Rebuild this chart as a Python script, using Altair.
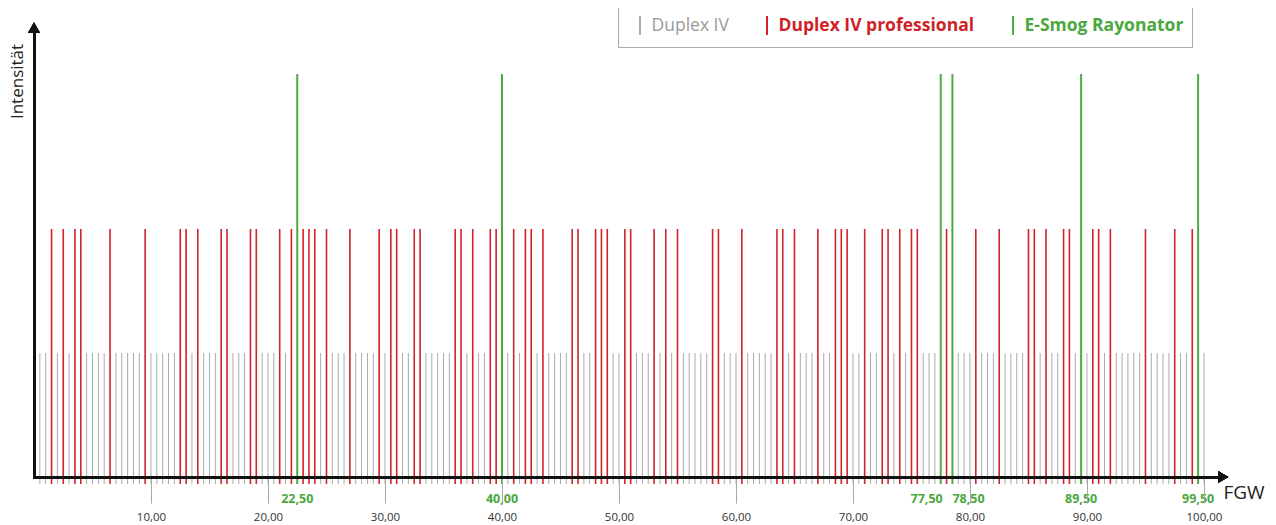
import altair as alt
import pandas as pd

# ---------------- data ----------------
SERIES = ["Duplex IV", "Duplex IV professional", "E-Smog Rayonator"]
LINE_COLORS = ["#ababab", "#d2232a", "#4cad3f"]
TEXT_COLORS = ["#9a9a9a", "#cf1f27", "#4aa83c"]
HEIGHTS = [1.0, 2.0, 3.25]          # relative intensity of each series

duplex_iv = [0.5, 1, 2, 3, 4.5, 5, 5.5, 6, 7, 7.5, 8, 8.5, 9, 10, 10.5, 11, 11.5, 12,
             13.5, 14.5, 15, 15.5, 17, 17.5, 18, 19.5, 20, 20.5, 21.5, 24.5, 25.5, 26,
             26.5, 27.5, 28, 28.5, 29, 30, 31.5, 32, 33.5, 34, 34.5, 35, 35.5, 37, 38,
             38.5, 40.5, 41.5, 43, 44, 44.5, 45, 45.5, 47, 47.5, 49.5, 50, 51.5, 52,
             52.5, 53.5, 54.5, 55.5, 56, 56.5, 57, 57.5, 59, 59.5, 60, 61, 61.5, 62,
             62.5, 63, 64.5, 65.5, 66, 66.5, 67.5, 68, 70, 70.5, 71.5, 72, 73.5, 74.5,
             76, 76.5, 77, 79, 79.5, 80, 81, 81.5, 82, 83, 83.5, 84, 84.5, 86, 87, 87.5,
             89, 90, 91.5, 92.5, 93, 93.5, 94, 94.5, 95.5, 96, 96.5, 97, 98, 98.5, 100]

duplex_pro = [1.5, 2.5, 3.5, 4, 6.5, 9.5, 12.5, 13, 14, 16, 16.5, 18.5, 19, 21, 22,
              23, 23.5, 24, 25, 27, 29.5, 30.5, 31, 32.5, 33, 36, 36.5, 37.5, 39, 39.5,
              41, 42, 42.5, 43.5, 46, 46.5, 48, 48.5, 49, 50.5, 51, 53, 54, 55, 58, 58.5,
              60.5, 63.5, 64, 65, 67, 68.5, 69, 69.5, 71, 72.5, 73, 74, 75, 75.5, 78,
              80.5, 82.5, 85, 85.5, 86.5, 88, 88.5, 90.5, 91, 92, 95, 97.5, 99]

rayonator = [22.5, 40.0, 77.5, 78.5, 89.5, 99.5]
rayonator_labels = ["22,50", "40,00", "77,50", "78,50", "89,50", "99,50"]
rayonator_label_align = ["center", "center", "right", "left", "center", "center"]

axis_ticks = [10, 20, 30, 40, 50, 60, 70, 80, 90, 100]
x_domain = [0, 101.2]
y_domain = [0, 3.58]

# ---------------- tables ----------------
rows = []
for name, vals, h in zip(SERIES, [duplex_iv, duplex_pro, rayonator], HEIGHTS):
    for v in vals:
        rows.append({"fgw": v, "intensity": h, "series": name})
lines = pd.DataFrame(rows)
green_lab = pd.DataFrame({"fgw": rayonator, "label": rayonator_labels,
                          "align": rayonator_label_align})

FONT = "Open Sans"

xs = alt.Scale(domain=x_domain, nice=False, zero=False)
ys = alt.Scale(domain=y_domain, nice=False, zero=False)
cs = alt.Scale(domain=SERIES, range=LINE_COLORS)

x_axis = alt.Axis(
    values=axis_ticks, grid=False, zindex=1,
    domainColor="#111", domainWidth=3, domainCap="square",
    tickColor="#a8a8a8", tickWidth=1, tickSize=26,
    labelFontSize=11.5, labelColor="#333", labelPadding=8, labelFont=FONT,
    labelExpr="replace(format(datum.value, '.2f'), '.', ',')",
    title="FGW", titleFontSize=19, titleFontWeight="normal", titleColor="#222",
    titleFont=FONT, titleX=1189, titleY=15, titleAlign="left",
    titleBaseline="middle", titleAngle=0,
)
y_axis = alt.Axis(
    grid=False, ticks=False, labels=False, zindex=1,
    domainColor="#111", domainWidth=3, domainCap="square",
    title="Intensität", titleFontSize=17, titleFontWeight="normal",
    titleColor="#222", titleFont=FONT, titleX=-12, titleY=81 - 33,
    titleAngle=270, titleAlign="center", titleBaseline="alphabetic",
)

label_color_expr = (
    f"datum.value === '{SERIES[0]}' ? '{TEXT_COLORS[0]}' : "
    f"datum.value === '{SERIES[1]}' ? '{TEXT_COLORS[1]}' : '{TEXT_COLORS[2]}'"
)
label_weight_expr = f"datum.value === '{SERIES[0]}' ? 'normal' : 'bold'"

legend = alt.Legend(
    title=None, orient="none", legendX=584, legendY=-26,
    direction="horizontal", columns=3, columnPadding=24,
    symbolType="M0,-1L0,1", symbolSize=361, symbolStrokeWidth=2, symbolOffset=3.5,
    labelFont=FONT, labelFontSize=17.5, labelOffset=1, labelLimit=400,
    labelColor=alt.ExprRef(expr=label_color_expr),
    labelFontWeight=alt.ExprRef(expr=label_weight_expr),
    padding=8, strokeColor="#aaaaaa", fillColor="white",
)

base = alt.Chart(lines).encode(
    x=alt.X("fgw:Q", scale=xs, axis=x_axis),
    y=alt.Y("intensity:Q", scale=ys, axis=y_axis),
    y2=alt.datum(0),
    color=alt.Color("series:N", scale=cs, legend=legend),
)

grey = base.transform_filter(alt.datum.series == SERIES[0]).mark_rule(strokeWidth=1, y2Offset=7)
red = base.transform_filter(alt.datum.series == SERIES[1]).mark_rule(strokeWidth=1.6, y2Offset=7)
green = base.transform_filter(alt.datum.series == SERIES[2]).mark_rule(strokeWidth=2, y2Offset=7)

label_layers = []
for al, dx in [("center", 0), ("right", 2), ("left", 0)]:
    label_layers.append(
        alt.Chart(green_lab).transform_filter(alt.datum.align == al).mark_text(
            dy=22, dx=dx, fontWeight="bold", fontSize=12.5, color=TEXT_COLORS[2],
            baseline="middle", align=al, font=FONT,
        ).encode(
            x=alt.X("fgw:Q", scale=xs, axis=x_axis),
            y=alt.datum(0),
            text="label:N",
        )
    )

arrow_up = alt.Chart(green_lab).mark_point(
    shape="triangle-up", size=144, filled=True, color="#111", opacity=1, yOffset=-5.2
).encode(x=alt.datum(x_domain[0]), y=alt.datum(y_domain[1]))

arrow_right = alt.Chart(green_lab).mark_point(
    shape="triangle-right", size=144, filled=True, color="#111", opacity=1, xOffset=5.2
).encode(x=alt.datum(x_domain[1]), y=alt.datum(0))

chart = alt.layer(grey, red, green, *label_layers, arrow_up, arrow_right).properties(
    width=1184, height=444,
    autosize=alt.AutoSizeParams(type="none"),
    padding={"left": 26, "top": 25, "right": 50, "bottom": 46},
).configure(font=FONT).configure_view(stroke=None)

chart.save("out.html", embed_options={"renderer": "svg", "actions": False})
